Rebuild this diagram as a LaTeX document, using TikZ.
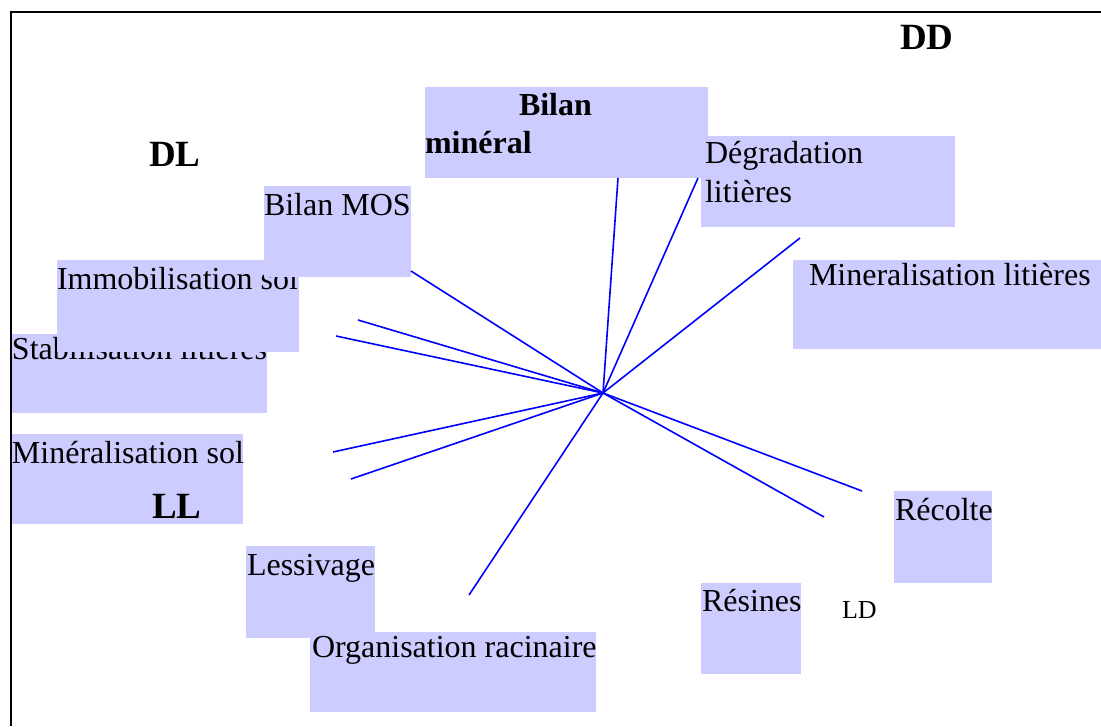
\documentclass[tikz,border=0pt]{standalone}
\usepackage{fontspec}
\setmainfont{Liberation Serif}
\definecolor{boxfill}{HTML}{CCCCFF}
\begin{document}
\begin{tikzpicture}[x=1pt,y=-1pt,
  box/.style={fill=boxfill, draw=none, inner sep=0pt, outer sep=0pt, anchor=north west},
  lbl/.style={anchor=base west, inner sep=0pt, outer sep=0pt, font=\fontsize{32}{36}\selectfont},
  blbl/.style={anchor=base west, inner sep=0pt, outer sep=0pt, font=\bfseries\fontsize{37}{40}\selectfont},
  bmlbl/.style={anchor=base west, inner sep=0pt, outer sep=0pt, font=\bfseries\fontsize{32}{36}\selectfont},
  smlbl/.style={anchor=base west, inner sep=0pt, outer sep=0pt, font=\fontsize{26}{30}\selectfont},
  ray/.style={draw=blue, line width=1.6pt},
  frame/.style={draw=black, line width=2pt}]
\useasboundingbox (0,0) rectangle (1101,726);
% frame
\coordinate (fa) at (11,726);
\coordinate (fb) at (11,12);
\coordinate (fc) at (1101,12);
\draw[frame] (fa) -- (fb) -- (fc);
% boxes and texts (order matters for overlaps)
\node[box, minimum width=255pt, minimum height=79pt] (stab) at (12,334) {};
\node[lbl] (tstab) at (12,359) {Stabilisation litières};
\node[box, minimum width=242pt, minimum height=92pt] (immo) at (57,260) {};
\node[lbl] (timmo) at (57,289) {Immobilisation sol};
\node[box, minimum width=147pt, minimum height=91pt] (mos) at (264,186) {};
\node[lbl] (tmos) at (264,215) {Bilan MOS};
\node[box, minimum width=283pt, minimum height=91pt] (bm) at (425,87) {};
\node[bmlbl] (tbm1) at (519,115) {Bilan};
\node[bmlbl] (tbm2) at (425,153) {minéral};
\node[box, minimum width=254pt, minimum height=91pt] (deg) at (701,136) {};
\node[lbl] (tdeg1) at (705,163) {Dégradation};
\node[lbl] (tdeg2) at (705,202) {litières};
\node[box, minimum width=308pt, minimum height=89pt] (minlit) at (793,260) {};
\node[lbl] (tminlit) at (809,285) {Mineralisation litières};
\node[box, minimum width=231pt, minimum height=90pt] (minsol) at (12,434) {};
\node[lbl] (tminsol) at (12,463) {Minéralisation sol};
\node[box, minimum width=129pt, minimum height=92pt] (less) at (246,546) {};
\node[lbl] (tless) at (247,575) {Lessivage};
\node[box, minimum width=286pt, minimum height=80pt] (org) at (310,632) {};
\node[lbl] (torg) at (312,657) {Organisation racinaire};
\node[box, minimum width=100pt, minimum height=91pt] (res) at (701,583) {};
\node[lbl] (tres) at (702,611) {Résines};
\node[box, minimum width=98pt, minimum height=92pt] (rec) at (894,491) {};
\node[lbl] (trec) at (895,520) {Récolte};
% quadrant labels
\node[blbl] (dl) at (149,166) {DL};
\node[blbl] (dd) at (900,49) {DD};
\node[blbl] (ll) at (152,518) {LL};
\node[smlbl] (ld) at (842,618) {LD};
% rays
\coordinate (c) at (603,393);
\coordinate (r1) at (618,178);
\coordinate (r2) at (698,178);
\coordinate (r3) at (800,238);
\coordinate (r4) at (411,271);
\coordinate (r5) at (358,320);
\coordinate (r6) at (336,336);
\coordinate (r7) at (333,452);
\coordinate (r8) at (351,479);
\coordinate (r9) at (469,595);
\coordinate (r10) at (824,517);
\coordinate (r11) at (862,491);
\foreach \e in {r1,r2,r3,r4,r5,r6,r7,r8,r9,r10,r11}
  \draw[ray] (c) -- (\e);
\end{tikzpicture}
\end{document}
